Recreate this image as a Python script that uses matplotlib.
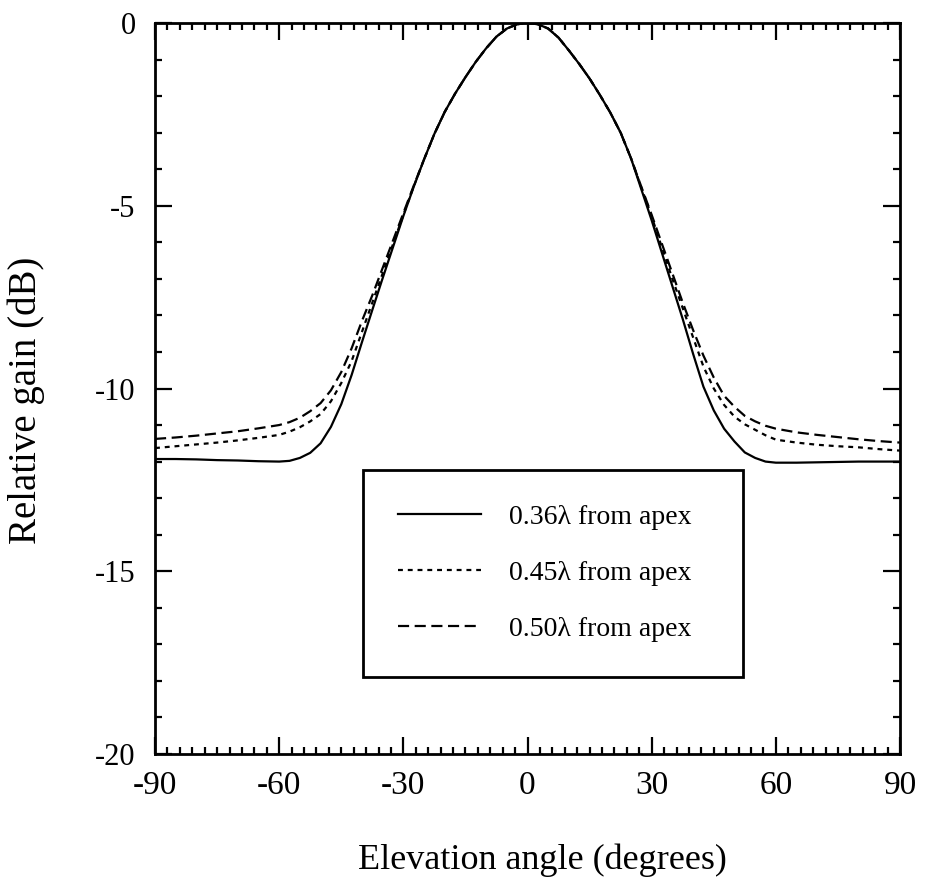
import matplotlib
matplotlib.use("Agg")
import matplotlib.pyplot as plt
from matplotlib.ticker import MultipleLocator

plt.rcParams['font.family'] = ['Liberation Serif', 'DejaVu Serif']
plt.rcParams['axes.unicode_minus'] = False

# elevation angles (degrees), shared by all three curves
angle = [-90, -85, -80, -75, -70, -65,
         -60, -57.5, -55, -52.5, -50, -47.5, -45, -42.5, -40, -37.5, -35, -32.5,
         -30, -27.5, -25, -22.5, -20, -17.5, -15, -12.5, -10, -7.5, -5, -2.5,
         0, 2.5, 5, 7.5, 10, 12.5, 15, 17.5, 20, 22.5, 25, 27.5,
         30, 32.5, 35, 37.5, 40, 42.5, 45, 47.5, 50, 52.5, 55, 57.5, 60,
         65, 70, 75, 80, 85, 90]

# relative gain (dB), feed 0.36 lambda from apex
gain_036 = [-11.93, -11.93, -11.94, -11.96, -11.97, -11.99,
            -12.0, -11.98, -11.9, -11.76, -11.5, -11.05, -10.43, -9.63, -8.73, -7.85, -6.98, -6.13,
            -5.28, -4.48, -3.73, -3.03, -2.43, -1.93, -1.48, -1.06, -0.69, -0.37, -0.15, -0.03,
            0.0, -0.03, -0.15, -0.4, -0.75, -1.12, -1.52, -1.97, -2.45, -3.0, -3.7, -4.55,
            -5.4, -6.3, -7.2, -8.1, -9.05, -9.95, -10.6, -11.1, -11.45, -11.75, -11.9, -12.0, -12.03,
            -12.03, -12.02, -12.01, -12.0, -12.0, -12.0]

# feed 0.45 lambda from apex
gain_045 = [-11.63, -11.58, -11.53, -11.48, -11.42, -11.35,
            -11.27, -11.18, -11.06, -10.9, -10.7, -10.35, -9.85, -9.25, -8.45, -7.65, -6.85, -6.05,
            -5.25, -4.47, -3.73, -3.03, -2.43, -1.93, -1.48, -1.06, -0.69, -0.37, -0.15, -0.03,
            0.0, -0.03, -0.15, -0.4, -0.75, -1.12, -1.52, -1.97, -2.45, -3.0, -3.7, -4.5,
            -5.3, -6.15, -7.0, -7.8, -8.6, -9.4, -10.0, -10.45, -10.77, -10.98, -11.13, -11.28, -11.4,
            -11.48, -11.54, -11.58, -11.61, -11.66, -11.7]

# feed 0.50 lambda from apex
gain_050 = [-11.38, -11.34, -11.29, -11.23, -11.17, -11.09,
            -11.0, -10.92, -10.8, -10.62, -10.4, -10.05, -9.55, -8.9, -8.15, -7.45, -6.7, -5.95,
            -5.2, -4.45, -3.73, -3.03, -2.43, -1.93, -1.48, -1.06, -0.69, -0.37, -0.15, -0.03,
            0.0, -0.03, -0.15, -0.4, -0.75, -1.12, -1.52, -1.97, -2.45, -3.0, -3.7, -4.48,
            -5.25, -6.05, -6.85, -7.65, -8.4, -9.1, -9.7, -10.2, -10.5, -10.75, -10.9, -11.02, -11.1,
            -11.2, -11.27, -11.33, -11.39, -11.44, -11.48]

labels = ['0.36λ from apex', '0.45λ from apex', '0.50λ from apex']

fig = plt.figure(figsize=(9.25, 8.88), dpi=100)
ax = fig.add_axes([0.1676, 0.151, 0.8054, 0.823])

lw = 1.6
ax.plot(angle, gain_036, color='black', lw=lw, label=labels[0])
ax.plot(angle, gain_045, color='black', lw=lw, dashes=(2.2, 2.2), label=labels[1])
ax.plot(angle, gain_050, color='black', lw=lw, dashes=(5, 2.5), label=labels[2])

ax.set_xlim(-90, 90)
ax.set_ylim(-20, 0)
ax.xaxis.set_major_locator(MultipleLocator(30))
ax.xaxis.set_minor_locator(MultipleLocator(3))
ax.yaxis.set_major_locator(MultipleLocator(5))
ax.yaxis.set_minor_locator(MultipleLocator(1))

ax.tick_params(which='both', direction='in', top=True, right=True, width=1.6, colors='black')
ax.tick_params(which='major', length=12)
ax.tick_params(which='minor', length=5)
ax.tick_params(axis='x', which='major', labelsize=24, pad=12)
ax.tick_params(axis='y', which='major', labelsize=22, pad=14)
for sp in ax.spines.values():
    sp.set_linewidth(2)

ax.set_xlabel('Elevation angle (degrees)', fontsize=26)
ax.xaxis.set_label_coords(0.52, -0.122)
ax.set_ylabel('Relative gain (dB)', fontsize=28)
ax.yaxis.set_label_coords(-0.148, 0.484)

leg = ax.legend(loc='upper left', bbox_to_anchor=(0.2792, 0.108, 0.510, 0.2805),
                mode='expand', borderaxespad=0, fontsize=20,
                frameon=True, fancybox=False, framealpha=1, edgecolor='black',
                handlelength=3.0, handletextpad=1.0, labelspacing=1.1,
                borderpad=1.25)
leg.get_frame().set_linewidth(2)

fig.savefig('out.png', dpi=100)
